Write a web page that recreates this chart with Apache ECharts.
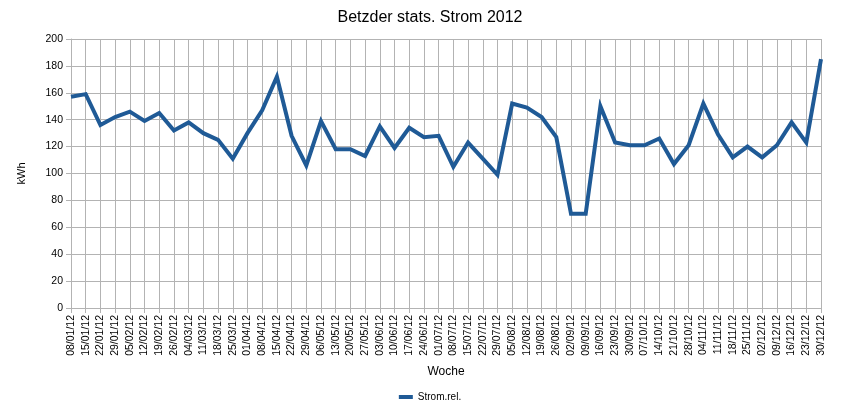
<!DOCTYPE html>
<html>
<head>
<meta charset="utf-8">
<script src="https://cdn.jsdelivr.net/npm/echarts@6/dist/echarts.min.js"></script>
<style>
  html, body { margin: 0; padding: 0; background: #fff; }
  #chart { width: 860px; height: 417px; }
</style>
</head>
<body>
<div id="chart"></div>
<script>
var weeks = ['08/01/12','15/01/12','22/01/12','29/01/12','05/02/12','12/02/12','19/02/12','26/02/12',
  '04/03/12','11/03/12','18/03/12','25/03/12','01/04/12','08/04/12','15/04/12','22/04/12','29/04/12',
  '06/05/12','13/05/12','20/05/12','27/05/12','03/06/12','10/06/12','17/06/12','24/06/12',
  '01/07/12','08/07/12','15/07/12','22/07/12','29/07/12','05/08/12','12/08/12','19/08/12','26/08/12',
  '02/09/12','09/09/12','16/09/12','23/09/12','30/09/12','07/10/12','14/10/12','21/10/12','28/10/12',
  '04/11/12','11/11/12','18/11/12','25/11/12','02/12/12','09/12/12','16/12/12','23/12/12','30/12/12'];

var stromRel = [157, 159, 136, 142, 146, 139, 145, 132, 138, 130, 125, 111, 130, 147, 172, 128, 106,
  139, 118, 118, 113, 135, 119, 134, 127, 128, 105, 123, 111, 99, 152, 149, 142, 127,
  70, 70, 150, 123, 121, 121, 126, 107, 121, 152, 129, 112, 120, 112, 121, 138, 123, 185];

var chart = echarts.init(document.getElementById('chart'));
var font = 'Liberation Sans, Arial, sans-serif';

chart.setOption({
  animation: false,
  title: {
    text: 'Betzder stats. Strom 2012',
    left: 'center',
    top: 5,
    textStyle: { fontFamily: font, fontSize: 16, fontWeight: 'normal', color: '#000' }
  },
  grid: { left: 71, right: 39, top: 39, bottom: 109 },
  legend: {
    bottom: 10,
    left: 'center',
    icon: 'rect',
    itemWidth: 14,
    itemHeight: 4,
    itemGap: 4,
    textStyle: { fontFamily: font, fontSize: 10, color: '#000' },
    data: ['Strom.rel.']
  },
  xAxis: {
    type: 'category',
    data: weeks,
    boundaryGap: false,
    name: 'Woche',
    nameLocation: 'middle',
    nameGap: 58,
    nameTextStyle: { fontFamily: font, fontSize: 12, color: '#000' },
    axisLine: { lineStyle: { color: '#b3b3b3' } },
    axisTick: { show: true, length: 5, lineStyle: { color: '#b3b3b3' } },
    axisLabel: { rotate: 90, interval: 0, fontFamily: font, fontSize: 10.5, color: '#000', margin: 7 },
    splitLine: { show: true, lineStyle: { color: '#b3b3b3' } }
  },
  yAxis: {
    type: 'value',
    min: 0,
    max: 200,
    interval: 20,
    name: 'kWh',
    nameLocation: 'middle',
    nameGap: 44,
    nameTextStyle: { fontFamily: font, fontSize: 11, color: '#000' },
    axisLine: { show: true, lineStyle: { color: '#b3b3b3' } },
    axisTick: { show: true, length: 5, lineStyle: { color: '#b3b3b3' } },
    axisLabel: { fontFamily: font, fontSize: 10.5, color: '#000', margin: 8 },
    splitLine: { lineStyle: { color: '#b3b3b3' } }
  },
  series: [{
    name: 'Strom.rel.',
    type: 'line',
    data: stromRel,
    symbol: 'none',
    color: '#1f5a96',
    lineStyle: { width: 4, color: '#1f5a96', join: 'miter' }
  }]
});
</script>
</body>
</html>
